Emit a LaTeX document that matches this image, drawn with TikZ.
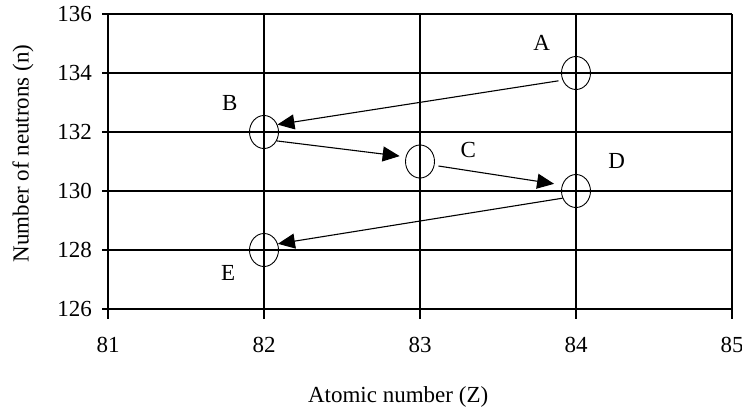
\documentclass[tikz,border=0pt]{standalone}
\usepackage{fontspec}
\setmainfont{Liberation Serif}
\usetikzlibrary{shapes.geometric,arrows.meta}

\begin{document}
\begin{tikzpicture}[
  x=156pt, y=29.5pt,
  font=\fontsize{23}{27}\selectfont,
  grd/.style={line width=2pt},
  nuc/.style={draw, ellipse, line width=0.9pt, minimum width=29pt, minimum height=33pt, inner sep=0pt},
  lab/.style={inner sep=0pt},
  arr/.style={-{Triangle[length=17pt,width=15pt]}, line width=1.1pt}
]
\useasboundingbox (-108pt,-99pt) rectangle (634pt,309pt);
\begin{scope}[shift={(-81,-126)}]
% grid and ticks
\foreach \n in {126,128,...,136}
  \draw[grd] (81,\n) -- (85,\n);
\foreach \z in {81,...,85}
  \draw[grd] (\z,126) -- (\z,136);
\foreach \n in {126,128,...,136}
  \draw[grd] (81,\n) -- ++(-6pt,0) node[lab, anchor=east, xshift=-9pt] {\n};
\foreach \z in {81,...,85}
  \draw[grd] (\z,126) -- ++(0,-10pt) node[lab, anchor=base, yshift=-33pt] {\z};

% nuclides
\node[nuc] (A) at (84,134) {};
\node[nuc] (B) at (82,132) {};
\node[nuc] (C) at (83,131) {};
\node[nuc] (D) at (84,130) {};
\node[nuc] (E) at (82,128) {};

\node[lab] (labA) at (83.78,135.02) {A};
\node[lab] (labB) at (81.78,132.98) {B};
\node[lab] (labC) at (83.31,131.39) {C};
\node[lab] (labD) at (84.26,131.02) {D};
\node[lab] (labE) at (81.77,127.22) {E};

% decay steps
\draw[arr, shorten <=4pt] (A.208) -- (B.29);
\draw[arr, shorten >=6pt] (B.-35) -- (C.162);
\draw[arr, shorten <=4pt, shorten >=8pt] (C.-15) -- (D.157);
\draw[arr] (D.208) -- (E.24);

% axis titles
\node[lab, xshift=-85pt, yshift=8pt, rotate=90] (ylab) at (81,131) {Number of neutrons (n)};
\node[lab, anchor=base, yshift=-93pt] (xlab) at (82.86,126) {Atomic number (Z)};
\end{scope}
\end{tikzpicture}
\end{document}
